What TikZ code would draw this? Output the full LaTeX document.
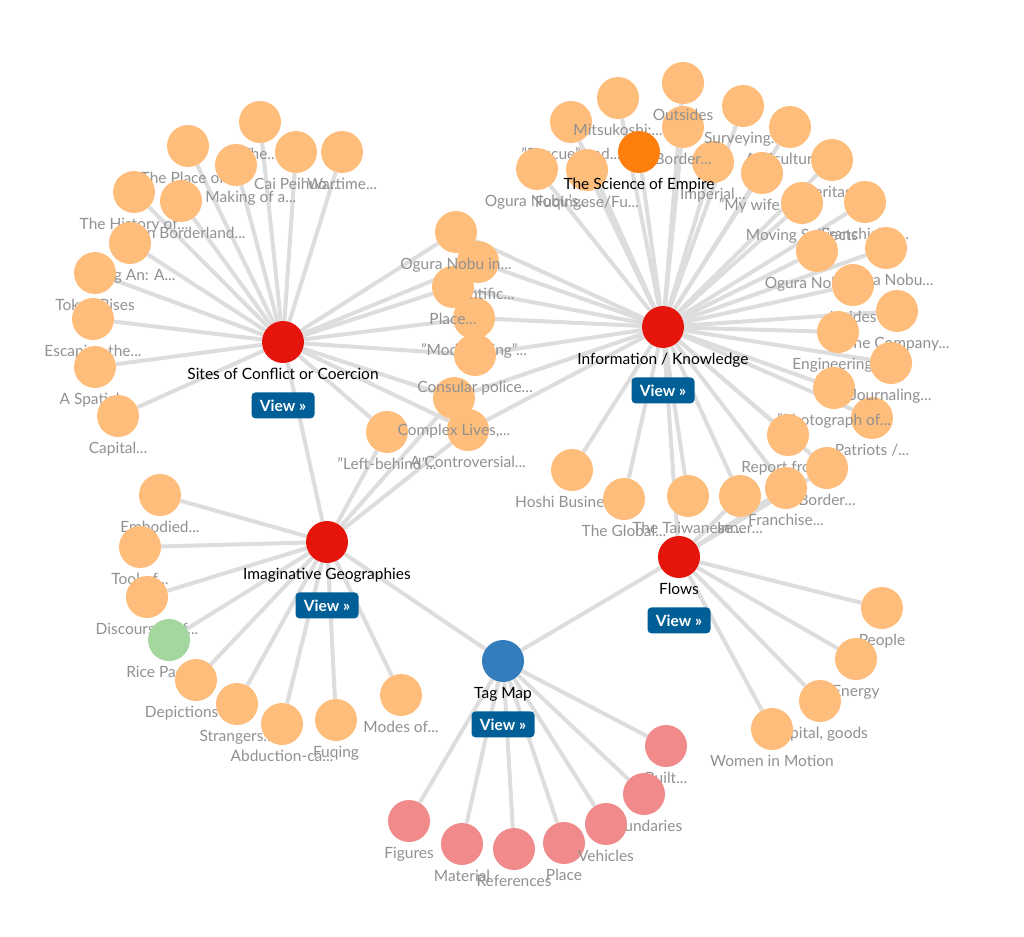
\documentclass[tikz,border=0pt]{standalone}
\usepackage{fontspec}
\setmainfont{Lato}
\usetikzlibrary{positioning,backgrounds}

\definecolor{leaforange}{RGB}{255,189,123}
\definecolor{empireorange}{RGB}{255,127,14}
\definecolor{hubred}{RGB}{229,21,12}
\definecolor{tagblue}{RGB}{52,125,189}
\definecolor{tagpink}{RGB}{241,139,139}
\definecolor{ricegreen}{RGB}{163,215,158}
\definecolor{linkgray}{RGB}{221,221,221}
\definecolor{labelgray}{RGB}{145,145,145}
\definecolor{viewblue}{RGB}{0,95,150}

\begin{document}
\begin{tikzpicture}[x=1pt, y=-1pt,
    dot/.style={circle, minimum size=42pt, inner sep=0pt, label distance=10pt},
    leaftext/.style={text=labelgray, inner sep=0pt, text height=11pt, text depth=3.5pt,
      yshift=-5pt, font=\fontsize{15.5}{18}\selectfont},
    hubtext/.style={leaftext, text=black},
    leaf/.style={dot, fill=leaforange, label={[leaftext]below:{#1}}},
    tagleaf/.style={dot, fill=tagpink, label={[leaftext]below:{#1}}},
    hub/.style={dot, fill=hubred, label={[hubtext]below:{#1}}},
    viewbtn/.style={fill=viewblue, text=white, rounded corners=4pt, inner sep=0pt,
      minimum width=63pt, minimum height=26pt, font=\bfseries\fontsize{15.5}{18}\selectfont},
    link/.style={draw=linkgray, line width=4pt}]
  \useasboundingbox (0,0) rectangle (1024,936);

  % hubs
  \node[hub={Sites of Conflict or Coercion}] (sites) at (283,342) {};
  \node[viewbtn, below=29pt of sites] (sitesview) {View »};
  \node[hub={Information / Knowledge}] (info) at (663,327) {};
  \node[viewbtn, below=29pt of info] (infoview) {View »};
  \node[hub={Imaginative Geographies}] (imag) at (327,542) {};
  \node[viewbtn, below=29pt of imag] (imagview) {View »};
  \node[hub={Flows}] (flows) at (679,557) {};
  \node[viewbtn, below=29pt of flows] (flowsview) {View »};
  \node[hub={Tag Map}, fill=tagblue] (tagmap) at (503,661) {};
  \node[viewbtn, below=29pt of tagmap] (tagmapview) {View »};

  % sites of conflict
  \node[leaf={The Place of...}] (placeof) at (188,146) {};
  \node[leaf={The...}] (the) at (260,122) {};
  \node[leaf={Cai Peihuo...}] (caipei) at (296,152) {};
  \node[leaf={Wartime...}] (wartime) at (342,152) {};
  \node[leaf={The Making of a...}] (making) at (236,165) {};
  \node[leaf={The History of...}] (history) at (134,192) {};
  \node[leaf={Japan Borderland...}] (borderland) at (181,201) {};
  \node[leaf={Shing An: A...}] (shingan) at (130,243) {};
  \node[leaf={Tokyo Rises}] (tokyo) at (95,273) {};
  \node[leaf={Escaping the...}] (escaping) at (93,319) {};
  \node[leaf={A Spatial...}] (spatial) at (95,367) {};
  \node[leaf={Capital...}] (capital) at (118,416) {};
  \node[leaf={"Left-behind"...}] (leftbehind) at (387,432) {};

  % shared by sites and information
  \node[leaf={A Controversial...}] (controv) at (468,430) {};
  \node[leaf={Complex Lives,...}] (complex) at (454,398) {};
  \node[leaf={"Modernizing"...}] (modern) at (474,318) {};
  \node[leaf={Consular police...}] (consular) at (475,355) {};
  \node[leaf={Scientific...}] (scientific) at (478,262) {};
  \node[leaf={Place...}] (placedots) at (453,287) {};
  \node[leaf={Ogura Nobu in...}] (ogurain) at (456,232) {};

  % information / knowledge
  \node[leaf={"Rescue" and...}] (rescue) at (571,122) {};
  \node[leaf={Ogura Nobu's...}] (ogurass) at (537,169) {};
  \node[leaf={Fuqingese/Fu...}] (fuqingese) at (587,170) {};
  \node[leaf={Mitsukoshi:...}] (mitsu) at (618,98) {};
  \node[leaf={Imperial...}] (imperial) at (713,162) {};
  \node[leaf={Border...}] (borderi) at (683,127) {};
  \node[leaf={Outsides}] (outsides) at (683,83) {};
  \node[leaf={Surveying...}] (surveying) at (743,106) {};
  \node[dot, fill=empireorange, label={[hubtext]below:{The Science of Empire}}] (science) at (639,152) {};
  \node[leaf={Agricultural...}] (agri) at (790,127) {};
  \node[leaf={"My wife is...}] (wife) at (762,173) {};
  \node[leaf={Heritage}] (heritage) at (832,160) {};
  \node[leaf={Moving Subjects}] (moving) at (802,203) {};
  \node[leaf={Franchising...}] (franchising) at (865,202) {};
  \node[leaf={Ogura Nobu's...}] (oguras2) at (817,251) {};
  \node[leaf={Ogura Nobu...}] (ogura3) at (886,248) {};
  \node[leaf={Insides}] (insides) at (853,285) {};
  \node[leaf={The Company...}] (company) at (897,311) {};
  \node[leaf={Engineering...}] (engineering) at (838,332) {};
  \node[leaf={Patriots /...}] (patriots) at (872,418) {};
  \node[leaf={"Photograph of...}] (photograph) at (834,388) {};
  \node[leaf={Journaling...}] (journaling) at (891,363) {};
  \node[leaf={Report from...}] (report) at (788,435) {};
  \node[leaf={Border...}] (borderb) at (827,468) {};
  \node[leaf={Franchise...}] (franchise) at (786,488) {};
  \node[leaf={Hoshi Business...}] (hoshi) at (572,470) {};
  \node[leaf={The Global...}] (global) at (624,499) {};
  \node[leaf={The Taiwanese...}] (taiwanese) at (688,496) {};
  \node[leaf={Inner...}] (inner) at (740,496) {};

  % imaginative geographies
  \node[leaf={Embodied...}] (embodied) at (160,495) {};
  \node[leaf={Tool of...}] (toolof) at (140,547) {};
  \node[leaf={Discourses of...}] (discourses) at (147,597) {};
  \node[dot, fill=ricegreen, label={[leaftext]below:{Rice Paddies}}] (rice) at (169,640) {};
  \node[leaf={Depictions of...}] (depictions) at (196,680) {};
  \node[leaf={Strangers...}] (strangers) at (237,704) {};
  \node[leaf={Abduction-ca...}] (abduction) at (282,724) {};
  \node[leaf={Fuqing}] (fuqing) at (336,720) {};
  \node[leaf={Modes of...}] (modes) at (401,695) {};

  % flows
  \node[leaf={People}] (people) at (882,608) {};
  \node[leaf={Energy}] (energy) at (856,659) {};
  \node[leaf={Capital, goods}] (capgoods) at (820,701) {};
  \node[leaf={Women in Motion}] (women) at (772,729) {};

  % tag map
  \node[tagleaf={Figures}] (figures) at (409,821) {};
  \node[tagleaf={Material}] (material) at (462,844) {};
  \node[tagleaf={References}] (references) at (514,849) {};
  \node[tagleaf={Place}] (placet) at (564,843) {};
  \node[tagleaf={Built...}] (built) at (666,746) {};
  \node[tagleaf={Boundaries}] (boundaries) at (644,794) {};
  \node[tagleaf={Vehicles}] (vehicles) at (606,824) {};

  \begin{scope}[on background layer]
    \fill[white] (0,0) rectangle (1024,936);
    \foreach \n in {placeof,the,caipei,wartime,making,history,borderland,shingan,
        tokyo,escaping,spatial,capital,leftbehind,ogurain,scientific,placedots,
        modern,consular,complex,controv,imag}
      \draw[link] (sites) -- (\n);
    \foreach \n in {ogurain,scientific,placedots,modern,consular,complex,controv,
        outsides,mitsu,rescue,science,borderi,surveying,imperial,fuqingese,ogurass,
        agri,wife,heritage,moving,franchising,oguras2,ogura3,insides,company,
        engineering,journaling,photograph,patriots,report,borderb,franchise,inner,
        taiwanese,global,hoshi,flows}
      \draw[link] (info) -- (\n);
    \foreach \n in {embodied,toolof,discourses,rice,depictions,strangers,abduction,
        fuqing,modes,leftbehind,complex,controv,tagmap}
      \draw[link] (imag) -- (\n);
    \foreach \n in {people,energy,capgoods,women,inner,franchise,borderb,tagmap}
      \draw[link] (flows) -- (\n);
    \foreach \n in {figures,material,references,placet,vehicles,boundaries,built}
      \draw[link] (tagmap) -- (\n);
  \end{scope}
\end{tikzpicture}
\end{document}
